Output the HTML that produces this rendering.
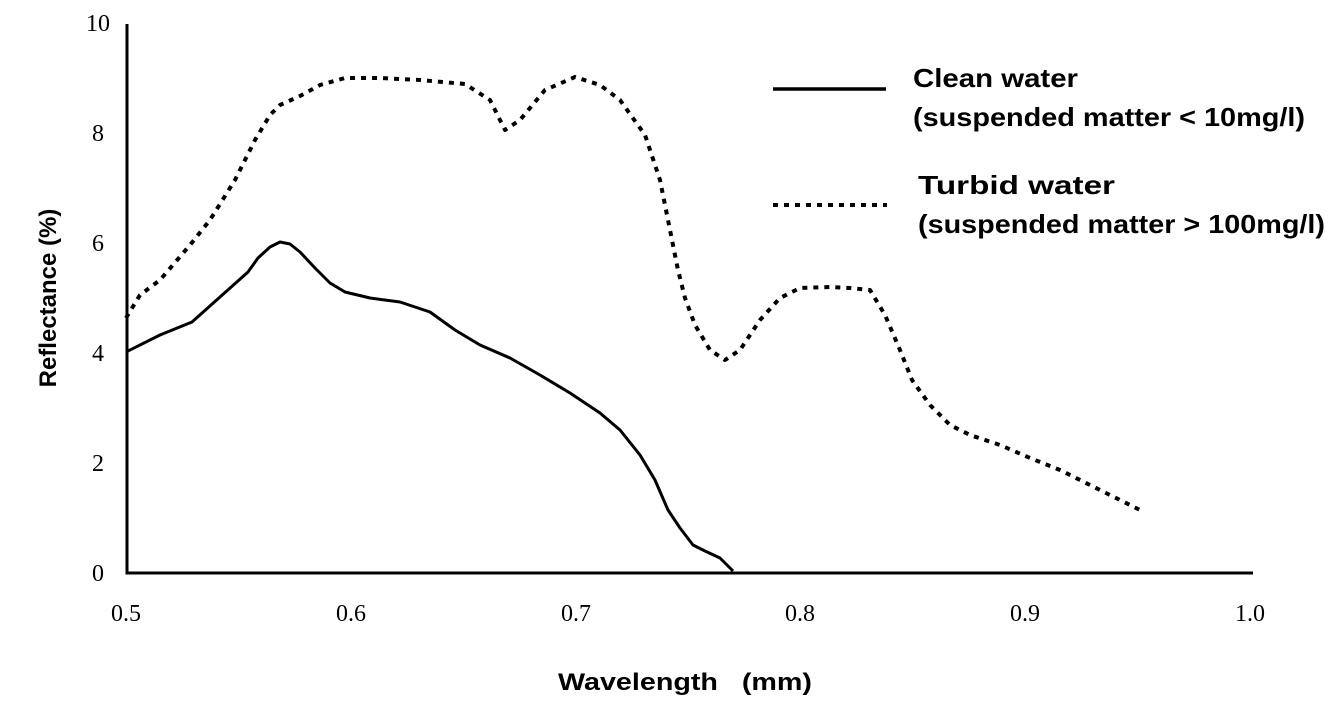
<!DOCTYPE html>
<html><head><meta charset="utf-8"><style>html,body{margin:0;padding:0;background:#fff;}svg{display:block;}</style></head>
<body>
<svg width="1344" height="720" viewBox="0 0 1344 720" xmlns="http://www.w3.org/2000/svg">
<g fill="none" stroke="#000" stroke-width="3">
<polyline points="127,24 127,573 1253,573"/>
<polyline stroke-linejoin="round" points="126,352 160,335 192,322 220,297 248,272 258,258 270,247 280,242 290,244 300,252 315,268 330,283 345,292 370,298 400,302 430,312 455,330 480,345 510,358 540,375 570,393 600,413 620,430 640,455 655,480 668,510 680,528 693,545 705,551 720,558 733,571"/>
<polyline stroke-dasharray="5 6" stroke-width="4" stroke-linejoin="round" points="126,318 140,295 160,280 190,245 210,220 235,180 255,140 270,115 280,105 300,96 320,85 345,78 380,78 420,80 465,84 490,100 505,130 520,120 545,90 575,77 600,85 620,100 645,135 660,180 670,230 678,270 685,298 695,325 710,350 725,360 740,350 760,320 780,298 800,288 830,287 850,288 870,290 885,315 900,350 912,380 930,405 950,425 970,435 1000,445 1030,458 1060,470 1090,485 1120,500 1140,510"/>
<line x1="773" y1="89" x2="886" y2="89" stroke-width="3.5"/>
<line x1="773" y1="205" x2="887" y2="205" stroke-dasharray="5 6" stroke-width="4"/>
</g>
<g font-family="Liberation Serif, serif" font-size="24" fill="#000">
<text x="104" y="581" text-anchor="end">0</text>
<text x="104" y="471" text-anchor="end">2</text>
<text x="104" y="361" text-anchor="end">4</text>
<text x="104" y="251" text-anchor="end">6</text>
<text x="104" y="141" text-anchor="end">8</text>
<text x="110" y="31" text-anchor="end">10</text>
<text x="126" y="621" text-anchor="middle">0.5</text>
<text x="351" y="621" text-anchor="middle">0.6</text>
<text x="576" y="621" text-anchor="middle">0.7</text>
<text x="800" y="621" text-anchor="middle">0.8</text>
<text x="1025" y="621" text-anchor="middle">0.9</text>
<text x="1250" y="621" text-anchor="middle">1.0</text>
</g>
<g font-family="Liberation Sans, sans-serif" font-weight="bold" font-size="26" fill="#000">
<text x="913" y="87" textLength="165" lengthAdjust="spacingAndGlyphs">Clean water</text>
<text x="913" y="126" textLength="392" lengthAdjust="spacingAndGlyphs">(suspended matter &lt; 10mg/l)</text>
<text x="918" y="194" textLength="197" lengthAdjust="spacingAndGlyphs">Turbid water</text>
<text x="918" y="233" textLength="407" lengthAdjust="spacingAndGlyphs">(suspended matter &gt; 100mg/l)</text>
<text x="558" y="690" font-size="24" textLength="254" lengthAdjust="spacingAndGlyphs">Wavelength&#160;&#160;&#160;(mm)</text>
<text transform="translate(56,298) rotate(-90)" text-anchor="middle" font-size="24">Reflectance (%)</text>
</g>
</svg>
</body></html>
